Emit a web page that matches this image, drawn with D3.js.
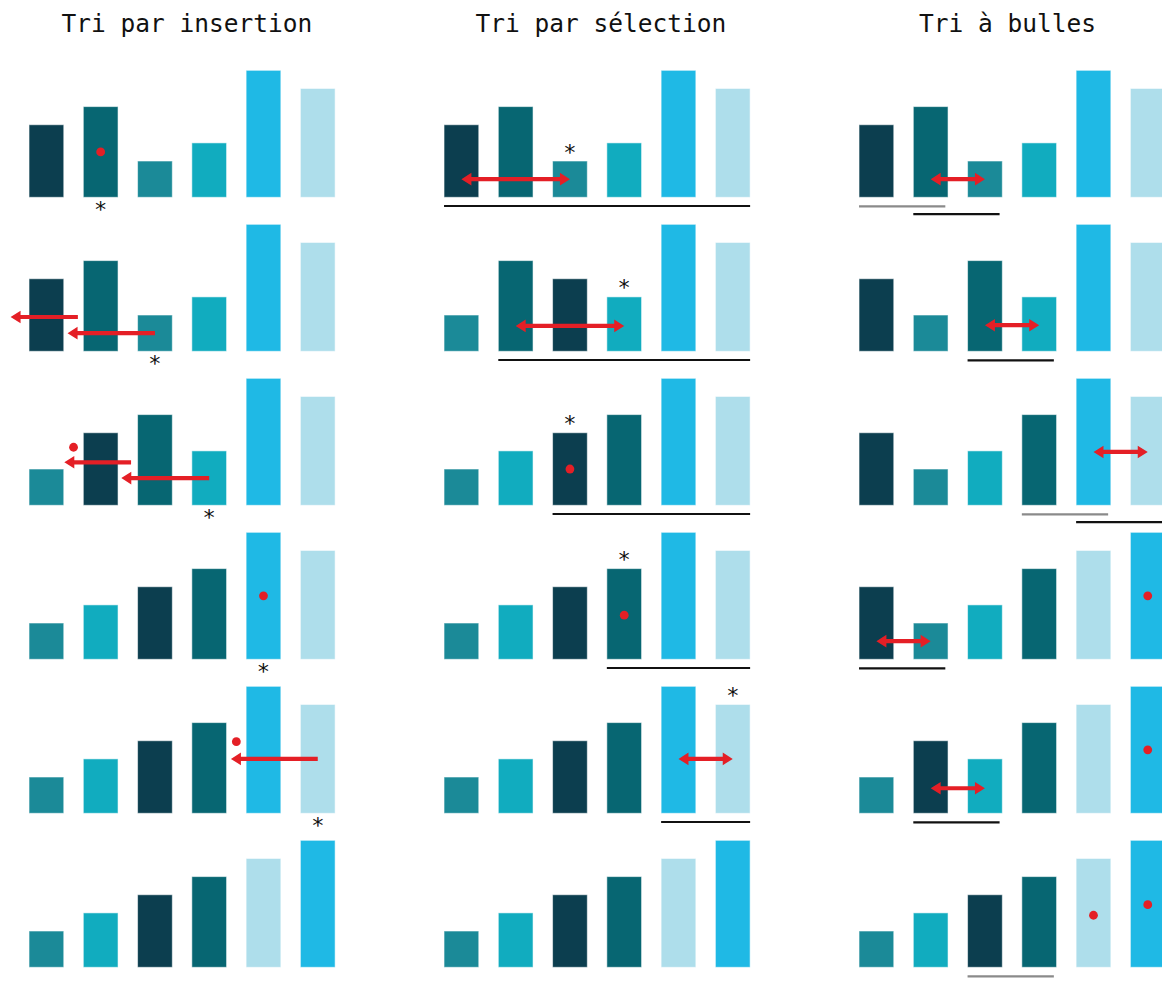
<!DOCTYPE html>
<html><head><meta charset="utf-8">
<script src="https://cdn.jsdelivr.net/npm/d3@7/dist/d3.min.js"></script>
<style>body{margin:0;background:#fff}svg{display:block}</style>
</head><body>
<svg id="chart" width="1162" height="982"></svg>
<script>
// ---------- DATA ----------
const titles = ["Tri par insertion", "Tri par sélection", "Tri à bulles"];

const insertionStates = [
  [4,5,2,3,7,6],
  [4,5,2,3,7,6],
  [2,4,5,3,7,6],
  [2,3,4,5,7,6],
  [2,3,4,5,7,6],
  [2,3,4,5,6,7]
];
const selectionStates = [
  [4,5,2,3,7,6],
  [2,5,4,3,7,6],
  [2,3,4,5,7,6],
  [2,3,4,5,7,6],
  [2,3,4,5,7,6],
  [2,3,4,5,6,7]
];
const bubbleStates = [
  [4,5,2,3,7,6],
  [4,2,5,3,7,6],
  [4,2,3,5,7,6],
  [4,2,3,5,6,7],
  [2,4,3,5,6,7],
  [2,3,4,5,6,7]
];

const valueColors = {2:"#1b8a98", 3:"#11acbf", 4:"#0c3e4f", 5:"#076672", 6:"#aedeeb", 7:"#1fb9e5"};

// asterisk (key) index per step ; null = none
const insertionKeys = [1, 2, 3, 4, 5, null];   // shown below the bar
const selectionKeys = [2, 3, 2, 3, 5, null];   // shown above the bar

// red dots: step, index, value-level
const insertionDots = [
  {step:0, i:1,   v:2.5},
  {step:2, i:0.5, v:3.2},
  {step:3, i:4,   v:3.5},
  {step:4, i:3.5, v:3.95}
];
const selectionDots = [
  {step:2, i:2, v:2.0},
  {step:3, i:3, v:2.43}
];
const bubbleDots = [
  {step:3, i:5, v:3.5},
  {step:4, i:5, v:3.5},
  {step:5, i:4, v:2.87},
  {step:5, i:5, v:3.45}
];

// one-way shift arrows (insertion): tail index -> tip index at value level
const insertionShifts = [
  {step:1, from:2,    to:0.39,  v:1.0},
  {step:1, from:0.58, to:-0.66, v:1.89},
  {step:2, from:3,    to:1.38,  v:1.5},
  {step:2, from:1.56, to:0.33,  v:2.37},
  {step:4, from:5,    to:3.4,   v:3.0}
];

// two-way swap arrows
const selectionSwaps = [
  {step:0, a:0, b:2, v:1.0},
  {step:1, a:1, b:3, v:1.4},
  {step:4, a:4, b:5, v:3.0}
];
const bubbleSwaps = [
  {step:0, a:1, b:2, v:1.0},
  {step:1, a:2, b:3, v:1.44},
  {step:2, a:4, b:5, v:2.94},
  {step:3, a:0, b:1, v:1.0},
  {step:4, a:1, b:2, v:1.38}
];

// selection: unsorted region start index
const selectionRegion = [0, 1, 2, 3, 4, null];

// bubble: compared pairs (first index), level 1/2, swapped (black) or not (gray)
const bubblePairs = [
  {step:0, i:0, level:1, swapped:false},
  {step:0, i:1, level:2, swapped:true},
  {step:1, i:2, level:1, swapped:true},
  {step:2, i:3, level:1, swapped:false},
  {step:2, i:4, level:2, swapped:true},
  {step:3, i:0, level:1, swapped:true},
  {step:4, i:1, level:1, swapped:true},
  {step:5, i:2, level:1, swapped:false}
];

// ---------- LAYOUT ----------
const W = 1162, H = 982;
const colOffset = 415, firstCenter = 46.4, step = 54.27;
const firstBase = 197.3, rowStep = 154, unitPx = 18.14;
const barW = 0.64;
const titleX = [187, 601, 1007.5], titleY = 32;
const RED = "#e41f26";
const MONO = "'DejaVu Sans Mono', 'Liberation Mono', monospace";

const svg = d3.select("#chart");
svg.append("rect").attr("width", W).attr("height", H).attr("fill", "#fff");

function xScale(col) {
  const x0 = firstCenter + col * colOffset;
  return d3.scaleLinear().domain([0, 5]).range([x0, x0 + 5 * step]);
}
function yScale(row) {
  const base = firstBase + row * rowStep;
  return d3.scaleLinear().domain([0, 7]).range([base, base - 7 * unitPx]);
}

const allStates = [insertionStates, selectionStates, bubbleStates];

// titles
svg.selectAll("text.title").data(titles).join("text")
  .attr("class", "title")
  .attr("x", (d, i) => titleX[i]).attr("y", titleY)
  .attr("text-anchor", "middle")
  .attr("font-family", MONO).attr("font-size", 24.5)
  .attr("fill", "#111")
  .text(d => d);

// bars
allStates.forEach((states, col) => {
  const x = xScale(col);
  states.forEach((vals, row) => {
    const y = yScale(row);
    const g = svg.append("g");
    g.selectAll("rect").data(vals).join("rect")
      .attr("x", (d, i) => x(i - barW / 2))
      .attr("width", x(barW) - x(0))
      .attr("y", d => y(d))
      .attr("height", d => y(0) - y(d))
      .attr("fill", d => valueColors[d])
      .attr("stroke", "rgba(255,255,255,0.55)")
      .attr("stroke-width", 1);
  });
});

// dots
function drawDots(list, col) {
  const x = xScale(col);
  svg.append("g").selectAll("circle").data(list).join("circle")
    .attr("cx", d => x(d.i))
    .attr("cy", d => yScale(d.step)(d.v))
    .attr("r", 4.4)
    .attr("fill", RED);
}
drawDots(insertionDots, 0);
drawDots(selectionDots, 1);
drawDots(bubbleDots, 2);

// asterisks
const kg = svg.append("g").attr("font-family", MONO).attr("font-size", 22)
  .attr("text-anchor", "middle").attr("fill", "#111");
insertionKeys.forEach((k, row) => {
  if (k === null) return;
  const x = xScale(0), y = yScale(row);
  kg.append("text").attr("x", x(k)).attr("y", y(0) + 20).text("*");
});
selectionKeys.forEach((k, row) => {
  if (k === null) return;
  const x = xScale(1), y = yScale(row);
  kg.append("text").attr("x", x(k)).attr("y", y(selectionStates[row][k]) - 1.4).text("*");
});

// arrows
const SH = 2.1, HW = 6.3, HL = 10;
function oneWay(x1, x2, y) {
  const d = Math.sign(x2 - x1), xb = x2 - d * HL;
  return `M${x1},${y - SH}L${xb},${y - SH}L${xb},${y - HW}L${x2},${y}L${xb},${y + HW}L${xb},${y + SH}L${x1},${y + SH}Z`;
}
function twoWay(xa, xb, y) {
  const a = xa + HL, b = xb - HL;
  return `M${xa},${y}L${a},${y - HW}L${a},${y - SH}L${b},${y - SH}L${b},${y - HW}L${xb},${y}L${b},${y + HW}L${b},${y + SH}L${a},${y + SH}L${a},${y + HW}Z`;
}
svg.append("g").selectAll("path").data(insertionShifts).join("path")
  .attr("d", d => { const x = xScale(0), y = yScale(d.step); return oneWay(x(d.from), x(d.to), y(d.v)); })
  .attr("fill", RED);
function drawSwaps(list, col) {
  const x = xScale(col);
  svg.append("g").selectAll("path").data(list).join("path")
    .attr("d", d => twoWay(x(d.a), x(d.b), yScale(d.step)(d.v)))
    .attr("fill", RED);
}
drawSwaps(selectionSwaps, 1);
drawSwaps(bubbleSwaps, 2);

// underlines
const lg = svg.append("g").attr("stroke-width", 2.2);
selectionRegion.forEach((s, row) => {
  if (s === null) return;
  const x = xScale(1), y = yScale(row);
  lg.append("line")
    .attr("x1", x(s - barW / 2)).attr("x2", x(5 + barW / 2))
    .attr("y1", y(0) + 8.7).attr("y2", y(0) + 8.7)
    .attr("stroke", "#111");
});
bubblePairs.forEach(p => {
  const x = xScale(2), y = yScale(p.step);
  const yy = y(0) + (p.level === 1 ? 9 : 16.8);
  lg.append("line")
    .attr("x1", x(p.i - 0.32)).attr("x2", x(p.i + 1.27))
    .attr("y1", yy).attr("y2", yy)
    .attr("stroke", p.swapped ? "#111" : "#8a8a8a");
});
</script>
</body></html>
